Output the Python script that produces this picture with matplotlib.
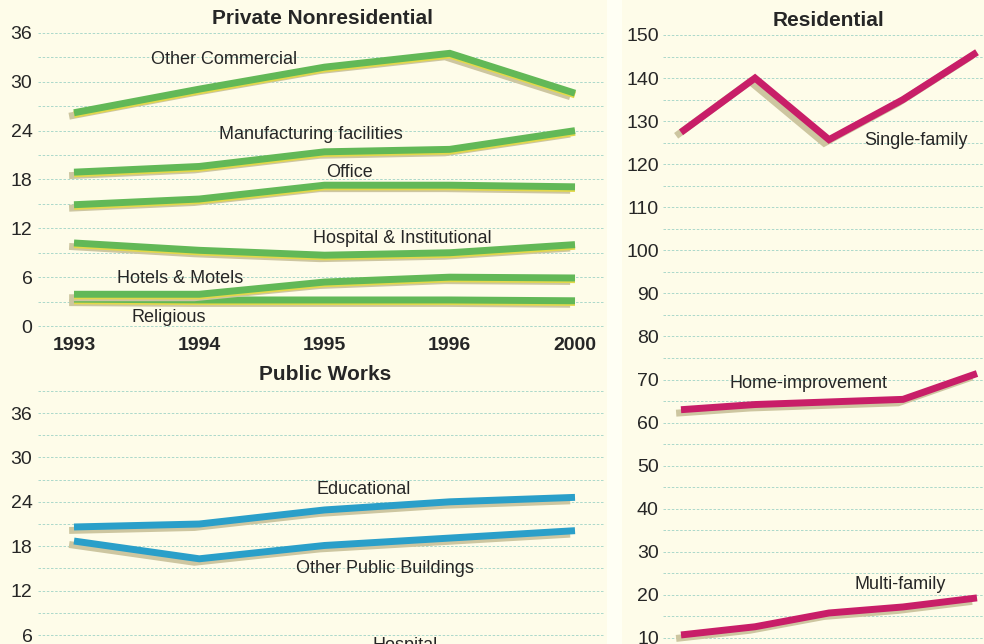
import matplotlib.pyplot as plt
import matplotlib.patheffects as pe
from matplotlib.patches import Rectangle

# Data (billions of dollars)
years = ['1993', '1994', '1995', '1996', '2000']

other_commercial = [26.2, 29.1, 31.8, 33.5, 28.6]
manufacturing = [18.9, 19.6, 21.4, 21.7, 24.0]
office = [14.9, 15.6, 17.3, 17.3, 17.1]
hospital_inst = [10.2, 9.3, 8.7, 9.0, 10.0]
hotels = [3.9, 3.9, 5.4, 6.0, 5.9]
religious = [3.3, 3.2, 3.2, 3.2, 3.1]

educational = [20.6, 21.0, 22.9, 24.0, 24.6]
other_public = [18.7, 16.3, 18.1, 19.1, 20.1]

single_family = [127.4, 140.0, 125.7, 135.0, 146.0]
home_improvement = [63.0, 64.2, 64.8, 65.4, 71.4]
multi_family = [10.7, 12.6, 15.8, 17.2, 19.3]

# Colours
bg = '#fefce9'
grid_color = '#9fd3c6'
text_color = '#262626'
green = '#62b857'
blue = '#2a9fc9'
magenta = '#c81e68'
shadow = '#cdc6a0'

plt.rcParams['font.family'] = ['Liberation Sans', 'DejaVu Sans']

W, H = 984, 644
fig = plt.figure(figsize=(W / 100, H / 100), dpi=100)
fig.patch.set_facecolor(bg)

# light strip between the panels (paper fold)
fig.patches.append(Rectangle((607 / W, 0), 15 / W, 1, transform=fig.transFigure,
                             facecolor='#fffff4', edgecolor='none', zorder=0))


def add_axes_px(left, right, top, bottom):
    # axes box given in pixels of the final image
    return fig.add_axes([left / W, 1 - bottom / H, (right - left) / W, (bottom - top) / H])


def style_axes(ax, major, minor):
    ax.set_facecolor('none')
    for s in ax.spines.values():
        s.set_visible(False)
    ax.set_yticks(major)
    ax.set_yticks(minor, minor=True)
    ax.grid(True, which='both', axis='y', color=grid_color, linestyle=(0, (3, 2)), linewidth=0.6)
    ax.grid(False, axis='x')
    ax.tick_params(axis='y', which='both', length=0, labelsize=14, colors=text_color, pad=4)
    ax.tick_params(axis='x', length=0)
    ax.set_axisbelow(True)


def draw_line(ax, values, color, yellow=False):
    effects = [pe.SimpleLineShadow(offset=(-3.5, -2.5), shadow_color=shadow, alpha=1)]
    if yellow:
        effects.append(pe.SimpleLineShadow(offset=(0, -1.2), shadow_color='#e3d84a', alpha=1))
    effects.append(pe.Normal())
    ax.plot(range(len(values)), values, color=color, linewidth=5,
            solid_capstyle='butt', solid_joinstyle='miter', path_effects=effects)


label_kw = dict(fontsize=13, color=text_color, ha='center', va='center')

# Private Nonresidential
ax1 = add_axes_px(38, 605, 28, 330)
style_axes(ax1, range(0, 37, 6), range(3, 36, 6))
ax1.set_xlim(-0.2874, 4.2395)
ax1.set_ylim(-0.49, 36.61)
for vals in [other_commercial, manufacturing, office, hospital_inst, religious, hotels]:
    draw_line(ax1, vals, green, yellow=True)
ax1.set_xticks(range(len(years)))
ax1.set_xticklabels(years, fontsize=14, fontweight='bold', color=text_color)
ax1.tick_params(axis='x', pad=5)
ax1.text(1.20, 32.8, 'Other Commercial', **label_kw)
ax1.text(1.89, 23.5, 'Manufacturing facilities', **label_kw)
ax1.text(2.20, 18.9, 'Office', **label_kw)
ax1.text(2.62, 10.7, 'Hospital & Institutional', **label_kw)
ax1.text(0.85, 5.8, 'Hotels & Motels', **label_kw)
ax1.text(0.76, 1.0, 'Religious', **label_kw)

# Public Works
ax2 = add_axes_px(38, 605, 380, 700)
style_axes(ax2, range(0, 37, 6), range(3, 40, 6))
ax2.set_xlim(-0.2874, 4.2395)
ax2.set_ylim(-2.78, 40.46)
ax2.set_xticks([])
draw_line(ax2, educational, blue)
draw_line(ax2, other_public, blue)
ax2.text(2.31, 25.6, 'Educational', **label_kw)
ax2.text(2.48, 15.05, 'Other Public Buildings', **label_kw)
ax2.text(2.64, 4.65, 'Hospital', **label_kw)

# Residential
ax3 = add_axes_px(663, 984, 30, 680)
style_axes(ax3, range(10, 151, 10), range(5, 150, 10))
ax3.set_xlim(-0.2432, 4.0946)
ax3.set_ylim(0.24, 151.16)
ax3.set_xticks([])
ax3.tick_params(axis='y', pad=3)
draw_line(ax3, single_family, magenta)
draw_line(ax3, home_improvement, magenta)
draw_line(ax3, multi_family, magenta)
ax3.text(3.18, 125.4, 'Single-family', **label_kw)
ax3.text(1.72, 69.0, 'Home-improvement', **label_kw)
ax3.text(2.96, 22.5, 'Multi-family', **label_kw)

# Panel titles
title_kw = dict(fontsize=15, fontweight='bold', color=text_color, ha='center', va='center')
fig.text(322 / W, 1 - 18 / H, 'Private Nonresidential', **title_kw)
fig.text(325 / W, 1 - 374 / H, 'Public Works', **title_kw)
fig.text(829 / W, 1 - 20 / H, 'Residential', **title_kw)

plt.savefig('out.png', dpi=100, facecolor=bg)
